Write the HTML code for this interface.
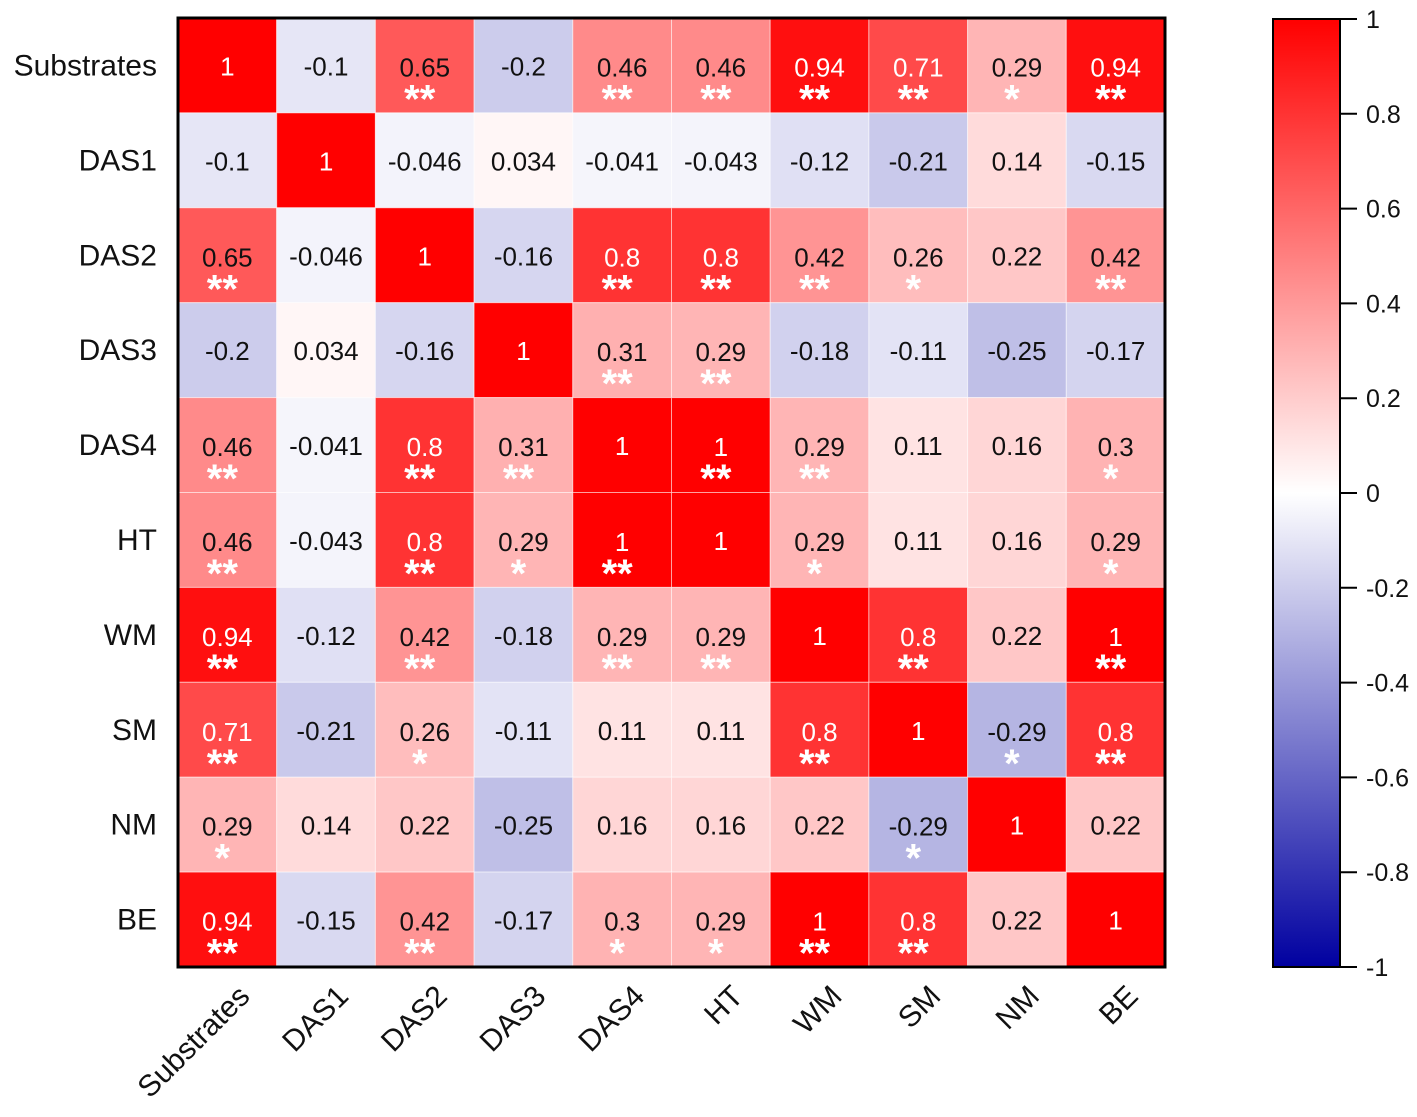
<!DOCTYPE html>
<html><head><meta charset="utf-8"><style>
html,body{margin:0;padding:0;background:#fff;}
svg{display:block;font-family:"Liberation Sans",Arial,sans-serif;}
</style></head><body>
<svg id="chart" width="1417" height="1117" viewBox="0 0 1417 1117">
<defs><linearGradient id="cbg" x1="0" y1="0" x2="0" y2="1">
<stop offset="0" stop-color="rgb(255,0,0)"/><stop offset="0.5" stop-color="#fff"/><stop offset="1" stop-color="rgb(0,0,160)"/></linearGradient></defs>
<g id="cells"></g>
<g id="labels"></g>
<rect x="178" y="18" width="987" height="949" fill="none" stroke="#000" stroke-width="3"/>
<g id="ylab"></g>
<g id="xlab"></g>
<rect x="1273" y="19" width="67" height="948" fill="url(#cbg)" stroke="#000" stroke-width="2"/>
<g id="cbt"></g>
</svg>
<script>
const categories=["Substrates","DAS1","DAS2","DAS3","DAS4","HT","WM","SM","NM","BE"];
const values=[
[1,-0.1,0.65,-0.2,0.46,0.46,0.94,0.71,0.29,0.94],
[-0.1,1,-0.046,0.034,-0.041,-0.043,-0.12,-0.21,0.14,-0.15],
[0.65,-0.046,1,-0.16,0.8,0.8,0.42,0.26,0.22,0.42],
[-0.2,0.034,-0.16,1,0.31,0.29,-0.18,-0.11,-0.25,-0.17],
[0.46,-0.041,0.8,0.31,1,1,0.29,0.11,0.16,0.3],
[0.46,-0.043,0.8,0.29,1,1,0.29,0.11,0.16,0.29],
[0.94,-0.12,0.42,-0.18,0.29,0.29,1,0.8,0.22,1],
[0.71,-0.21,0.26,-0.11,0.11,0.11,0.8,1,-0.29,0.8],
[0.29,0.14,0.22,-0.25,0.16,0.16,0.22,-0.29,1,0.22],
[0.94,-0.15,0.42,-0.17,0.3,0.29,1,0.8,0.22,1]];
const stars=[
["","","**","","**","**","**","**","*","**"],
["","","","","","","","","",""],
["**","","","","**","**","**","*","","**"],
["","","","","**","**","","","",""],
["**","","**","**","","**","**","","","*"],
["**","","**","*","**","","*","","","*"],
["**","","**","","**","**","","**","","**"],
["**","","*","","","","**","","*","**"],
["*","","","","","","","*","",""],
["**","","**","","*","*","**","**","",""]];
const cbTicks=[1,0.8,0.6,0.4,0.2,0,-0.2,-0.4,-0.6,-0.8,-1];
const NS="http://www.w3.org/2000/svg";
const X0=178,Y0=18,W=987,H=949,n=categories.length,cw=W/n,ch=H/n;
const xs=i=>X0+i*cw, ys=j=>Y0+j*ch;
const cbY=v=>19+(1-v)/2*948;
function color(v){
  if(v>=0){const c=Math.round(255*(1-v));return `rgb(255,${c},${c})`;}
  const t=-v;return `rgb(${Math.round(255*(1-t))},${Math.round(255*(1-t))},${Math.round(255-95*t)})`;
}
function mk(tag,attrs,parent,text){const e=document.createElementNS(NS,tag);for(const k in attrs)e.setAttribute(k,attrs[k]);if(text!==undefined)e.textContent=text;parent.appendChild(e);return e;}
const cells=document.getElementById('cells'),labels=document.getElementById('labels');
for(let r=0;r<n;r++)for(let c=0;c<n;c++){
  const v=values[r][c];
  const rc=mk('rect',{x:xs(c),y:ys(r),width:cw,height:ch,fill:color(v),stroke:'rgba(255,255,255,0.5)','stroke-width':1},cells);
  
  
  const s=stars[r][c];
  const cx=xs(c)+cw/2;
  const tc=v>=0.7?'#fff':'#111';
  const t=mk('text',{x:cx,y:ys(r)+(s?ch/2+11:ch/2+10),'text-anchor':'middle','font-size':26,fill:tc},labels,String(v));
  
  
  if(s){
    const st=mk('text',{x:cx-5,y:ys(r)+ch/2+47,'text-anchor':'middle','font-size':40,'font-weight':'bold',fill:'#fff'},labels,s);
    
    
  }
}
const yl=document.getElementById('ylab'),xl=document.getElementById('xlab');
categories.forEach((c,i)=>{
  const t=mk('text',{x:157,y:ys(i)+ch/2+10,'text-anchor':'end','font-size':30,fill:'#111'},yl,c);
  
  
  const px=xs(i)+cw/2+24,py=998;
  const u=mk('text',{x:px,y:py,'text-anchor':'end','font-size':30,fill:'#111',transform:`rotate(-45 ${px} ${py})`},xl,c);
  
  
});
const cb=document.getElementById('cbt');
cbTicks.forEach(v=>{
  const y=cbY(v);
  const l=mk('line',{x1:1340,x2:1357,y1:y,y2:y,stroke:'#000','stroke-width':2},cb);
  
  
  const t=mk('text',{x:1366,y:y+9,'font-size':25,fill:'#111'},cb,String(v));
  
  
});
</script>
</body></html>
